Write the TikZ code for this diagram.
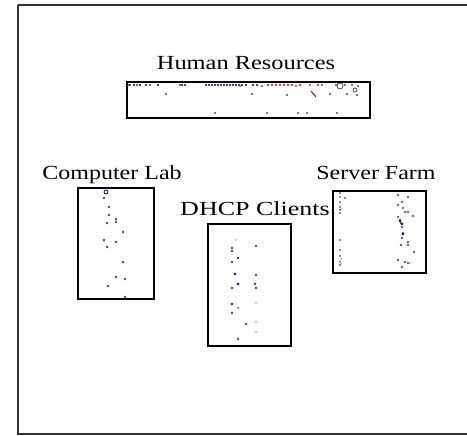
\documentclass[tikz,border=0pt]{standalone}
\usepackage{fontspec}
\setmainfont{Liberation Serif}
\begin{document}
\begin{tikzpicture}[x=1pt,y=-1pt,
  frame/.style={draw=black!80,line width=2.4pt},
  zone/.style={draw=black,line width=2pt},
  zonelabel/.style={font=\fontsize{20}{22}\selectfont,inner sep=0pt,anchor=base}]
\useasboundingbox (0,0) rectangle (467,436);
\fill[white] (0,0) rectangle (467,436);
% outer border, running off the right edge
\draw[frame] (18,5) -- (480,5) (18,5) -- (18,434) -- (480,434);

% zone boxes
\node[zone,minimum width=243pt,minimum height=36pt,inner sep=0pt,anchor=north west] (hr) at (126,81) {};
\node[zone,minimum width=76pt,minimum height=111pt,inner sep=0pt,anchor=north west] (lab) at (77,187) {};
\node[zone,minimum width=83pt,minimum height=122pt,inner sep=0pt,anchor=north west] (dhcp) at (207,223) {};
\node[zone,minimum width=93pt,minimum height=82pt,inner sep=0pt,anchor=north west] (farm) at (332,190) {};

% zone labels
\node[zonelabel] (hrl) at (246,70) {\scalebox{1.22}[1]{Human Resources}};
\node[zonelabel] (labl) at (112,180) {\scalebox{1.2}[1]{Computer Lab}};
\node[zonelabel] (farml) at (376,180) {\scalebox{1.2}[1]{Server Farm}};
\node[zonelabel] (dhcpl) at (255,215) {\scalebox{1.3}[1]{DHCP Clients}};

% hosts: Human Resources
\foreach \x in {130,134,140,146,158,182,185,206,209,212,215,218,221,224,227,230,233,236,239,242,246,253,257}
  \fill[blue!40!black] (\x,85) circle (1.2pt);
\foreach \x in {128,137,150,180,268,272,276,280,284,288,292,300,318}
  \fill[red!80!black] (\x,85) circle (1.2pt);
\foreach \x in {240,262,296,358}
  \fill[green!60!black] (\x,86) circle (1.2pt);
\foreach \x in {310,322,336,345,352}
  \fill[black!70] (\x,85) circle (1.2pt);
\draw[black!70,line width=0.8pt] (340,86) circle (3pt) (355,90) circle (2pt);
\foreach \x/\y in {166/94,252/94,287/95,330/94,347/94,357/95,215/113,267/113,298/113,307/113,337/113}
  \fill[black!70] (\x,\y) circle (1.2pt);
\draw[red!60!blue,line width=1pt] (311,91) -- (316,97);

% hosts: Computer Lab
\draw[blue!70!black,line width=0.8pt] (106,192) circle (2pt);
\foreach \x/\y in {104/198,109/207,109/215,107/223,116/219,116/222,123/232,104/240,116/242,107/247,123/262,116/277,125/279,108/286,125/297}
  \fill[black!70] (\x,\y) circle (1.3pt);
\fill[red!70] (104,241) circle (0.8pt);

% hosts: DHCP Clients
\foreach \x/\y/\c in {236/240/green!50,256/246/black!70,232/248/black!70,232/251/black!70,232/262/black!70,238/258/violet,
  235/274/blue!60!black,256/275/black!70,238/284/blue!60!black,232/288/black!70,255/284/black!70,256/288/black!70,
  232/304/violet,238/308/red!60,232/313/black!70,256/303/green!50,246/324/black!70,256/322/green!50,256/332/green!50,238/339/black!70}
  \fill[\c] (\x,\y) circle (1.4pt);

% hosts: Server Farm
\foreach \y in {193,197,202,207,210,213,240,250,256,262,265}
  \fill[black!60] (340,\y) circle (1.2pt);
\foreach \y in {209,259,264}
  \fill[red!60] (341,\y) circle (0.8pt);
\fill[black!60] (345,198) circle (1.2pt);
\foreach \x/\y in {398/195,408/197,402/202,398/205,403/208,405/212,408/212,413/216,398/217,400/220,401/223,402/227,
  403/233,402/238,408/242,408/245,401/245,414/252,398/260,405/262,408/263,402/267}
  \fill[black!60] (\x,\y) circle (1.3pt);
\foreach \x/\y in {400/221,402/224,403/234}
  \fill[blue!60!black] (\x,\y) circle (1.3pt);
\fill[red!60] (410,263) circle (0.8pt);
\end{tikzpicture}
\end{document}
